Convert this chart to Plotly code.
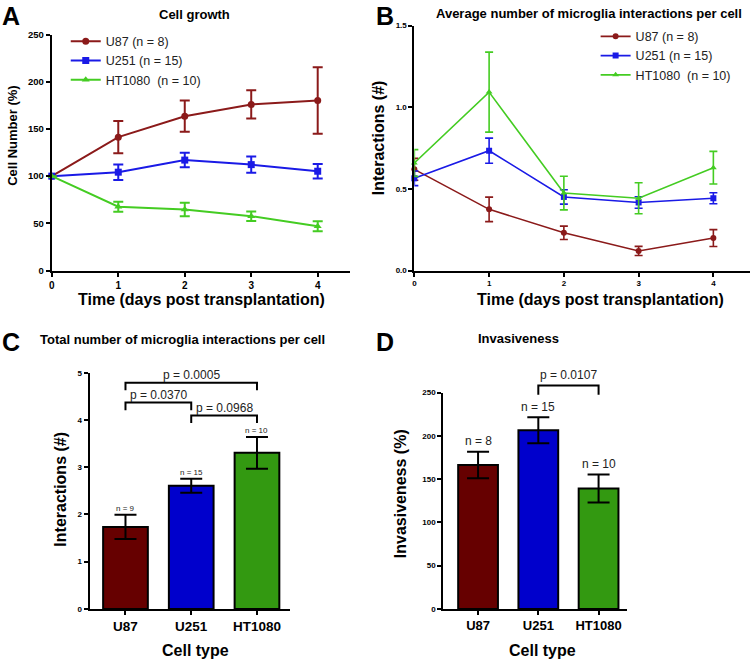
import plotly.graph_objects as go

W, H = 751, 666
FONT = "Liberation Sans, Arial, Helvetica, sans-serif"

# ---------------- data ----------------
days = [0, 1, 2, 3, 4]
line_names = ["U87 (n = 8)", "U251 (n = 15)", "HT1080  (n = 10)"]

growth_u87 = [100, 141.3, 163.5, 176.0, 180.2]
growth_u87_err = [0, 17.0, 16.5, 15.0, 35.2]
growth_u251 = [100, 104.2, 117.0, 112.2, 105.2]
growth_u251_err = [0, 8.2, 7.7, 8.5, 7.6]
growth_ht1080 = [100, 67.7, 64.6, 57.6, 46.9]
growth_ht1080_err = [0, 5.3, 7.2, 5.0, 5.3]

inter_u87 = [0.62, 0.375, 0.231, 0.120, 0.199]
inter_u87_err = [0.067, 0.075, 0.041, 0.028, 0.052]
inter_u251 = [0.565, 0.734, 0.451, 0.417, 0.443]
inter_u251_err = [0.045, 0.077, 0.044, 0.035, 0.034]
inter_ht1080 = [0.659, 1.093, 0.475, 0.443, 0.630]
inter_ht1080_err = [0.082, 0.245, 0.103, 0.095, 0.100]

cell_types = ["U87", "U251", "HT1080"]
total_inter = [1.735, 2.61, 3.305]
total_inter_err = [0.257, 0.148, 0.335]
total_inter_n = ["n = 9", "n = 15", "n = 10"]

invasiveness = [166.3, 206.4, 139.0]
invasiveness_err = [15.3, 15.0, 16.2]
invasiveness_n = ["n = 8", "n = 15", "n = 10"]

# comparisons: (from index, to index, label)
total_inter_pvals = [(0, 2, "p = 0.0005"), (0, 1, "p = 0.0370"), (1, 2, "p = 0.0968")]
invasiveness_pvals = [(1, 2, "p = 0.0107")]

# ---------------- styling ----------------
line_colors = ["#8B1A1A", "#1A1AE6", "#44CC22"]
bar_colors = ["#660000", "#0000CC", "#339911"]
symbols = ["circle", "square", "triangle-up"]


def px(x):
    return x / W


def py(y):
    return 1 - y / H


def axis(domain, rng, anchor, tickvals, tsize, **kw):
    d = dict(domain=domain, range=rng, anchor=anchor, showline=True,
             linecolor="black", linewidth=2, ticks="outside", ticklen=4,
             tickwidth=2, tickcolor="black", showgrid=False, zeroline=False,
             tickvals=tickvals, fixedrange=True,
             tickfont=dict(family=FONT, size=tsize, color="black", weight="bold"))
    d.update(kw)
    return d


xa1 = axis([px(49), px(348)], [0, 4.48], "y", days, 10)
ya1 = axis([py(269), py(29)], [0, 250], "x", [0, 50, 100, 150, 200, 250], 9.5)
xa2 = axis([px(413), px(750)], [0, 4.49], "y2", days, 8)
ya2 = axis([py(269), py(20)], [0, 1.5], "x2", [0, 0.5, 1.0, 1.5], 8, tickformat=".1f")
idx = list(range(len(cell_types)))
xa3 = axis([px(87), px(288)], [-0.545, 2.5], "y3", idx, 13.5, ticktext=cell_types)
ya3 = axis([py(613), py(373)], [0, 5], "x3", [0, 1, 2, 3, 4, 5], 8)
xa4 = axis([px(442), px(627)], [-0.578, 2.48], "y4", idx, 13, ticktext=cell_types)
ya4 = axis([py(613), py(393)], [0, 250], "x4", [0, 50, 100, 150, 200, 250], 8)


def to_paper(v, ax):
    d0, d1 = ax["domain"]
    r0, r1 = ax["range"]
    return d0 + (v - r0) / (r1 - r0) * (d1 - d0)


fig = go.Figure()

# Panel A
for name, vals, errs, col, sym in zip(
        line_names,
        [growth_u87, growth_u251, growth_ht1080],
        [growth_u87_err, growth_u251_err, growth_ht1080_err],
        line_colors, symbols):
    fig.add_trace(go.Scatter(
        x=days, y=vals, name=name, mode="lines+markers", xaxis="x", yaxis="y",
        line=dict(color=col, width=2), marker=dict(symbol=sym, size=7, color=col),
        error_y=dict(type="data", array=errs, color=col, thickness=2, width=5, visible=True),
        cliponaxis=False, legend="legend"))

# Panel B
for name, vals, errs, col, sym in zip(
        line_names,
        [inter_u87, inter_u251, inter_ht1080],
        [inter_u87_err, inter_u251_err, inter_ht1080_err],
        line_colors, symbols):
    fig.add_trace(go.Scatter(
        x=days, y=vals, name=name, mode="lines+markers", xaxis="x2", yaxis="y2",
        line=dict(color=col, width=1.6), marker=dict(symbol=sym, size=6, color=col),
        error_y=dict(type="data", array=errs, color=col, thickness=1.6, width=4, visible=True),
        cliponaxis=False, legend="legend2"))

# Panel C
fig.add_trace(go.Bar(
    x=idx, y=total_inter, xaxis="x3", yaxis="y3", width=0.68, showlegend=False,
    marker=dict(color=bar_colors, line=dict(color="black", width=2)),
    error_y=dict(type="data", array=total_inter_err, color="black", thickness=2, width=11)))

# Panel D
fig.add_trace(go.Bar(
    x=idx, y=invasiveness, xaxis="x4", yaxis="y4", width=0.66, showlegend=False,
    marker=dict(color=bar_colors, line=dict(color="black", width=2)),
    error_y=dict(type="data", array=invasiveness_err, color="black", thickness=2, width=11)))

ann = []
shapes = []


def text(x, y, s, size, bold=True, angle=0, xref="paper", yref="paper", color="black",
         yanchor="middle"):
    ann.append(dict(x=x, y=y, xref=xref, yref=yref, text=s, showarrow=False,
                    textangle=angle, xanchor="center", yanchor=yanchor,
                    font=dict(family=FONT, size=size, color=color,
                              weight="bold" if bold else "normal")))


# panel letters
for letter, x, y in [("A", 8, 10), ("B", 384, 10), ("C", 8, 342), ("D", 384, 342)]:
    text(px(x), py(y), letter, 25)

# titles
text(px(192), py(9), "Cell growth", 13)
text(px(588), py(8), "Average number of microglia interactions per cell", 13)
text(px(180), py(339), "Total number of microglia interactions per cell", 13)
text(px(518), py(338), "Invasiveness", 13)

# axis titles
text(px(10), py(132), "Cell Number (%)", 13, angle=-90)
text(px(199), py(298), "Time (days post transplantation)", 16)
text(px(377), py(134), "Interactions (#)", 16, angle=-90)
text(px(600), py(298), "Time (days post transplantation)", 16)
text(px(58), py(491), "Interactions (#)", 16, angle=-90)
text(px(193), 0, "Cell type", 16, yanchor="bottom")
text(px(399), py(496), "Invasiveness (%)", 16, angle=-90)
text(px(542), 0, "Cell type", 16, yanchor="bottom")

# n labels above bars
for i, (v, e, n) in enumerate(zip(total_inter, total_inter_err, total_inter_n)):
    text(i, v + e + 0.14, n, 8, bold=False, xref="x3", yref="y3", color="#222")
for i, (v, e, n) in enumerate(zip(invasiveness, invasiveness_err, invasiveness_n)):
    text(i, v + e + 12, n, 12, bold=False, xref="x4", yref="y4", color="#222")


# significance brackets (y converted to paper so they can sit above the axis range)
def bracket(i, j, lab, lvl, drop, toff, xref, ya):
    y_top = to_paper(lvl, ya)
    y_leg = to_paper(lvl - drop, ya)
    shapes.append(dict(type="path", xref=xref, yref="paper",
                       path=f"M {i},{y_leg} L {i},{y_top} L {j},{y_top} L {j},{y_leg}",
                       line=dict(color="black", width=2)))
    text((i + j) / 2, to_paper(lvl + toff, ya), lab, 12, bold=False, xref=xref,
         color="#222")


c_levels = [4.79, 4.37, 4.095]
for (i, j, lab), lvl in zip(total_inter_pvals, c_levels):
    bracket(i, j, lab, lvl, 0.16, 0.16, "x3", ya3)
d_levels = [258]
for (i, j, lab), lvl in zip(invasiveness_pvals, d_levels):
    bracket(i, j, lab, lvl, 10.5, 12, "x4", ya4)

legend_font = dict(family=FONT, size=12.5, color="#222")

fig.update_layout(
    width=W, height=H, margin=dict(l=0, r=0, t=0, b=0),
    paper_bgcolor="white", plot_bgcolor="white",
    xaxis=xa1, yaxis=ya1, xaxis2=xa2, yaxis2=ya2,
    xaxis3=xa3, yaxis3=ya3, xaxis4=xa4, yaxis4=ya4,
    legend=dict(x=px(63), y=py(21), xanchor="left", yanchor="top", font=legend_font,
                bgcolor="rgba(0,0,0,0)", itemwidth=30, tracegroupgap=0),
    legend2=dict(x=px(595), y=py(16), xanchor="left", yanchor="top", font=legend_font,
                 bgcolor="rgba(0,0,0,0)", itemwidth=30, tracegroupgap=0),
    annotations=ann, shapes=shapes,
)

fig.write_html("out.html", config={"displayModeBar": False},
               post_script="document.body.style.margin='0';document.body.style.padding='0';")
